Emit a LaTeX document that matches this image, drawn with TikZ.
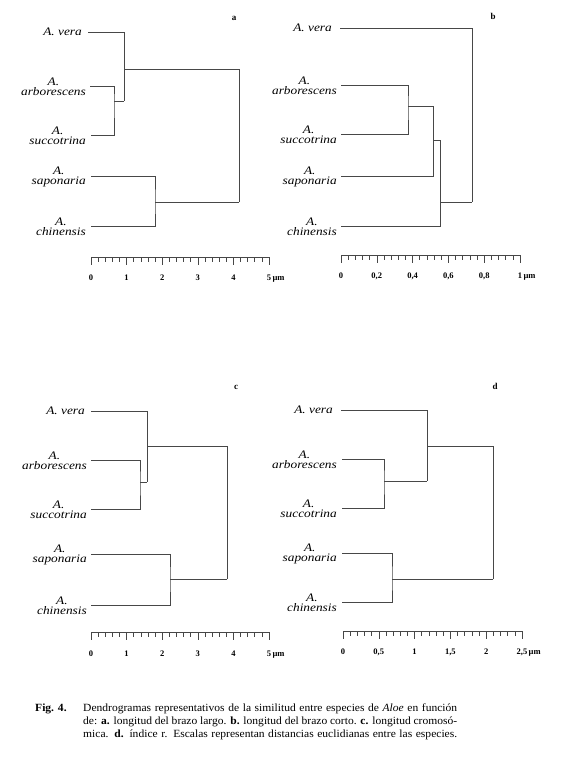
\documentclass[tikz,border=0pt]{standalone}
\usepackage{fontspec}
\setmainfont{Liberation Serif}
\newfontfamily\labfont[FakeStretch=1.16]{Liberation Serif}
\newfontfamily\capfont[FakeStretch=1.05]{Liberation Serif}
\tikzset{
  dline/.style={draw=black!72, line width=0.6pt},
  sp/.style={font=\labfont\itshape\fontsize{11.5}{10}\selectfont, anchor=east, align=center, inner sep=0pt},
  plet/.style={font=\bfseries\fontsize{9}{9}\selectfont, anchor=base, inner sep=0pt},
  snum/.style={font=\bfseries\fontsize{8.5}{8.5}\selectfont, anchor=base, inner sep=0pt},
  capl/.style={font=\capfont\fontsize{11}{12}\selectfont, anchor=base west, inner sep=0pt},
  sbar/.style={draw=black!72, line width=0.6pt}
}
\newcommand{\myscale}[3]{% x0, x1, y
  \draw[sbar] (#1,#3) -- (#2,#3);
  \foreach \i in {0,...,25}{
    \pgfmathsetmacro\tx{#1+\i*(#2-#1)/25}
    \pgfmathsetmacro\tl{mod(\i,5)==0 ? 8 : 5}
    \draw[sbar] (\tx,#3) -- (\tx,#3+\tl);
  }
}
\begin{document}
\begin{tikzpicture}[x=1pt,y=-1pt]
\fill[white] (0,0) rectangle (568,768);
\useasboundingbox (0,0) rectangle (568,768);

% ---------- panel a ----------
\node[plet] (la) at (234,21) {a};
\node[sp] (a-vl) at (82,32) {A. vera};
\node[sp] (a-al) at (86,87) {A.\\arborescens};
\node[sp] (a-sl) at (86,136) {A.\\succotrina};
\node[sp] (a-pl) at (86,177) {A.\\saponaria};
\node[sp] (a-cl) at (86,227) {A.\\chinensis};
\coordinate (a-v) at (88,32);
\coordinate (a-a) at (90,86);
\coordinate (a-s) at (91,135);
\coordinate (a-p) at (91,176);
\coordinate (a-c) at (91,226);
\coordinate (a-x1) at (114,101);
\coordinate (a-x2) at (124,101);
\coordinate (a-x3) at (124,69);
\coordinate (a-x5) at (239,202);
\coordinate (a-x6) at (155,202);
\draw[dline] (a-a) -| (a-x1) |- (a-s);
\draw[dline] (a-x1) -- (a-x2);
\draw[dline] (a-v) -| (a-x2);
\draw[dline] (a-x3) -| (a-x5);
\draw[dline] (a-x5) -- (a-x6);
\draw[dline] (a-p) -| (a-x6) |- (a-c);
\myscale{91}{269}{257}
\foreach \i/\t in {0/0,1/1,2/2,3/3,4/4}{\node[snum] at (91+\i*35.6,280) {\t};}
\node[snum] at (269,280) {5\rlap{\,µm}};

% ---------- panel b ----------
\node[plet] (lb) at (493,20) {b};
\node[sp] (b-vl) at (332,28) {A. vera};
\node[sp] (b-al) at (337,86) {A.\\arborescens};
\node[sp] (b-sl) at (337,135) {A.\\succotrina};
\node[sp] (b-pl) at (337,177) {A.\\saponaria};
\node[sp] (b-cl) at (337,227) {A.\\chinensis};
\coordinate (b-v) at (340,28);
\coordinate (b-a) at (341,85);
\coordinate (b-s) at (341,134);
\coordinate (b-p) at (341,176);
\coordinate (b-c) at (341,226);
\coordinate (b-x1) at (408,106);
\coordinate (b-x2) at (433,106);
\coordinate (b-x3) at (433,140);
\coordinate (b-x4) at (440,140);
\coordinate (b-x5) at (440,202);
\coordinate (b-x6) at (472,202);
\draw[dline] (b-a) -| (b-x1) |- (b-s);
\draw[dline] (b-x1) -- (b-x2);
\draw[dline] (b-p) -| (b-x2);
\draw[dline] (b-x3) -- (b-x4);
\draw[dline] (b-c) -| (b-x4);
\draw[dline] (b-x5) -- (b-x6);
\draw[dline] (b-v) -| (b-x6);
\myscale{341}{520}{255}
\foreach \i/\t in {0/0,1/{0,2},2/{0,4},3/{0,6},4/{0,8}}{\node[snum] at (341+\i*35.8,278) {\t};}
\node[snum] at (520,278) {1\rlap{\,µm}};

% ---------- panel c ----------
\node[plet] (lc) at (236,389) {c};
\node[sp] (c-vl) at (85,411) {A. vera};
\node[sp] (c-al) at (87,461) {A.\\arborescens};
\node[sp] (c-sl) at (87,510) {A.\\succotrina};
\node[sp] (c-pl) at (87,555) {A.\\saponaria};
\node[sp] (c-cl) at (87,606) {A.\\chinensis};
\coordinate (c-v) at (91,411);
\coordinate (c-a) at (91,460);
\coordinate (c-s) at (91,509);
\coordinate (c-p) at (91,554);
\coordinate (c-c) at (91,605);
\coordinate (c-x1) at (140,482);
\coordinate (c-x2) at (147,482);
\coordinate (c-x3) at (147,446);
\coordinate (c-x5) at (227,579);
\coordinate (c-x6) at (170,579);
\draw[dline] (c-a) -| (c-x1) |- (c-s);
\draw[dline] (c-x1) -- (c-x2);
\draw[dline] (c-v) -| (c-x2);
\draw[dline] (c-x3) -| (c-x5);
\draw[dline] (c-x5) -- (c-x6);
\draw[dline] (c-p) -| (c-x6) |- (c-c);
\myscale{91}{269}{632}
\foreach \i/\t in {0/0,1/1,2/2,3/3,4/4}{\node[snum] at (91+\i*35.6,656) {\t};}
\node[snum] at (269,656) {5\rlap{\,µm}};

% ---------- panel d ----------
\node[plet] (ld) at (495,389) {d};
\node[sp] (d-vl) at (333,410) {A. vera};
\node[sp] (d-al) at (337,460) {A.\\arborescens};
\node[sp] (d-sl) at (337,509) {A.\\succotrina};
\node[sp] (d-pl) at (337,554) {A.\\saponaria};
\node[sp] (d-cl) at (337,603) {A.\\chinensis};
\coordinate (d-v) at (341,410);
\coordinate (d-a) at (342,459);
\coordinate (d-s) at (342,508);
\coordinate (d-p) at (342,553);
\coordinate (d-c) at (342,602);
\coordinate (d-x1) at (384,481);
\coordinate (d-x2) at (427,481);
\coordinate (d-x3) at (427,446);
\coordinate (d-x5) at (493,579);
\coordinate (d-x6) at (392,579);
\draw[dline] (d-a) -| (d-x1) |- (d-s);
\draw[dline] (d-x1) -- (d-x2);
\draw[dline] (d-v) -| (d-x2);
\draw[dline] (d-x3) -| (d-x5);
\draw[dline] (d-x5) -- (d-x6);
\draw[dline] (d-p) -| (d-x6) |- (d-c);
\myscale{343}{522}{631}
\foreach \i/\t in {0/0,1/{0,5},2/1,3/{1,5},4/2}{\node[snum] at (343+\i*35.8,654) {\t};}
\node[snum] at (522,654) {2,5\rlap{\,µm}};

% ---------- caption ----------
\node[capl, font=\capfont\bfseries\fontsize{11}{12}\selectfont] (fig) at (35,711) {Fig. 4.};
\node[capl] (c1) at (83,711) {\hbox to 374pt{Dendrogramas representativos de la similitud entre especies de \textit{Aloe} en función}};
\node[capl] (c2) at (83,724) {\hbox to 374pt{de: \textbf{a.} longitud del brazo largo. \textbf{b.} longitud del brazo corto. \textbf{c.} longitud cromosó-}};
\node[capl] (c3) at (83,737) {\hbox to 374pt{mica. \textbf{d.} índice r. Escalas representan distancias euclidianas entre las especies.}};
\end{tikzpicture}
\end{document}
